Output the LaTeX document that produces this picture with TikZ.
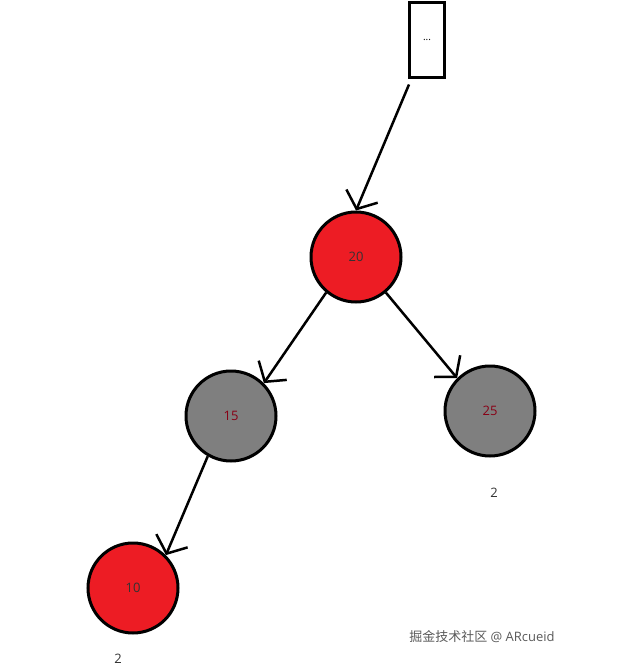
\documentclass[tikz,border=0pt]{standalone}
\usepackage{fontspec}
\setmainfont{Open Sans}
\newfontfamily\cjk{Noto Sans CJK SC}
\usetikzlibrary{arrows.meta}
\definecolor{rbred}{HTML}{ED1C24}
\definecolor{rbgray}{HTML}{7F7F7F}
\definecolor{dred}{HTML}{880015}
\begin{document}
\begin{tikzpicture}[x=1pt,y=-1pt,
  rb/.style={circle,draw=black,line width=3pt,minimum size=90pt,inner sep=0pt,font=\fontsize{13}{15}\selectfont},
  redn/.style={rb,fill=rbred,text=black!80},
  grayn/.style={rb,fill=rbgray,text=dred},
  arr/.style={line width=2.5pt,-{Straight Barb[length=14pt,width=34pt,line width=2.5pt]}},
  lbl/.style={font=\fontsize{13}{15}\selectfont,text=black!80}]
\useasboundingbox (0,0) rectangle (620,669);
\node[draw,line width=3pt,minimum width=35pt,minimum height=74pt,inner sep=0pt,fill=white,font=\fontsize{10}{12}\selectfont] (top) at (427,40) {...};
\node[redn] (n20) at (356,257) {20};
\node[grayn] (n15) at (231,416) {15};
\node[grayn] (n25) at (490,411) {25};
\node[redn] (n10) at (133,588) {10};
\node[lbl] (l25) at (494,493) {2};
\node[lbl] (l10) at (118,659) {2};
\node[font=\fontsize{13}{15}\selectfont,text=black!65] (wm) at (482,637) {{\cjk 掘金技术社区} @ ARcueid};
\draw[arr] (top.south) ++(-18,6) coordinate (a0) (a0) -- (n20.north);
\draw[arr] (n20.-130) -- (n15.north east);
\draw[arr] (n20.-50) -- (n25.north west);
\draw[arr] (n15.-120) -- (n10.north east);
\end{tikzpicture}
\end{document}
